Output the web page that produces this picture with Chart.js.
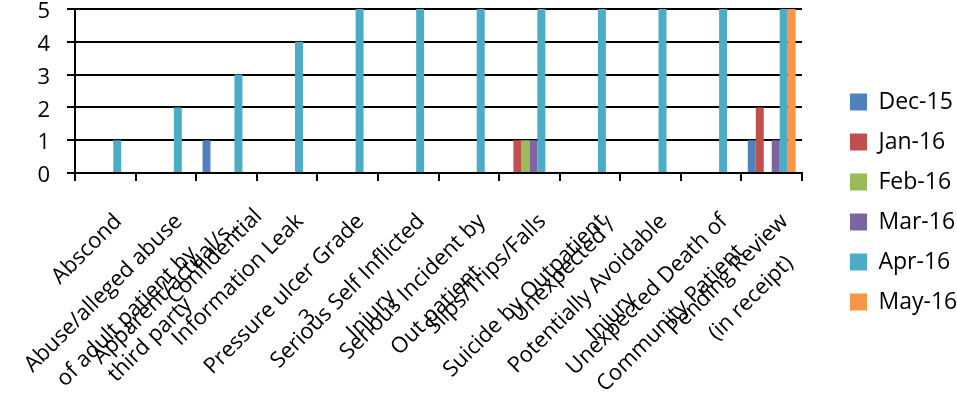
<!DOCTYPE html>
<html>
<head>
<meta charset="utf-8">
<script src="https://cdn.jsdelivr.net/npm/chart.js@4"></script>
<style>
  html, body { margin: 0; padding: 0; background: #fff; }
  #wrap { width: 957px; height: 403px; position: relative; }
</style>
</head>
<body>
<div id="wrap"><canvas id="chart"></canvas></div>
<script>
/* Category labels, one entry per line of the wrapped label */
var categories = [
  ['Abscond'],
  ['Abuse/alleged abuse', 'of adult patient by', 'third party'],
  ['Apparent/actual/s...'],
  ['Confidential', 'Information Leak'],
  ['Pressure ulcer Grade', '3'],
  ['Serious Self Inflicted', 'Injury'],
  ['Serious Incident by', 'Out patient'],
  ['Slips/Trips/Falls'],
  ['Suicide by Outpatient'],
  ['Unexpected /', 'Potentially Avoidable', 'Injury'],
  ['Unexpected Death of', 'Community Patient'],
  ['Pending Review', '(in receipt)']
];

/* Series names and counts per category */
var seriesNames = ['Dec-15', 'Jan-16', 'Feb-16', 'Mar-16', 'Apr-16', 'May-16'];
var dec15 = [0, 0, 1, 0, 0, 0, 0, 0, 0, 0, 0, 1];
var jan16 = [0, 0, 0, 0, 0, 0, 0, 1, 0, 0, 0, 2];
var feb16 = [0, 0, 0, 0, 0, 0, 0, 1, 0, 0, 0, 0];
var mar16 = [0, 0, 0, 0, 0, 0, 0, 1, 0, 0, 0, 1];
var apr16 = [1, 2, 3, 4, 5, 5, 5, 5, 5, 5, 5, 5];
var may16 = [0, 0, 0, 0, 0, 0, 0, 0, 0, 0, 0, 5];

/* Y axis tick values */
var yTicks = [0, 1, 2, 3, 4, 5];

var COLOURS = ['#4F81BD', '#C0504D', '#9BBB59', '#8064A2', '#4BACC6', '#F79646'];
var FONT = "'Open Sans', sans-serif";

/* Wrapped category labels at 45 degrees, Excel style: lines centred on
   each other, the widest line hangs from the tick, others stack around it */
var wrappedLabels = {
  id: 'wrappedLabels',
  afterDraw: function(chart) {
    var scale = chart.scales.x;
    var ctx = chart.ctx;
    var lineH = 33;
    ctx.save();
    ctx.font = '22px ' + FONT;
    ctx.fillStyle = '#000';
    ctx.textAlign = 'center';
    ctx.textBaseline = 'middle';
    chart.data.labels.forEach(function(lines, i) {
      var widths = lines.map(function(l) { return ctx.measureText(l).width; });
      var widest = Math.max.apply(null, widths);
      var k = widths.indexOf(widest);
      ctx.save();
      ctx.translate(scale.getPixelForTick(i) + 13, scale.top + 45);
      ctx.rotate(-Math.PI / 4);
      lines.forEach(function(line, j) {
        ctx.fillText(line, -widest / 2, (j - k) * lineH);
      });
      ctx.restore();
    });
    ctx.restore();
  }
};

/* Nudge the legend away from the plot, as in the original */
var legendNudge = {
  id: 'legendNudge',
  afterLayout: function(chart) {
    chart.legend.left += 31;
    chart.legend.right += 31;
    chart.legend.top -= 4;
    chart.legend.bottom -= 4;
  }
};

var seriesData = [dec15, jan16, feb16, mar16, apr16, may16];
var datasets = seriesNames.map(function(name, i) {
  return {
    label: name,
    data: seriesData[i],
    backgroundColor: COLOURS[i],
    borderWidth: 0,
    categoryPercentage: 0.79,
    barPercentage: 1.0
  };
});

Chart.defaults.font.family = FONT;
Chart.defaults.color = '#000';

new Chart(document.getElementById('chart'), {
  type: 'bar',
  data: {
    labels: categories,
    datasets: datasets
  },
  options: {
    responsive: true,
    maintainAspectRatio: false,
    animation: false,
    layout: { padding: { top: 9, right: 0, bottom: 0, left: 0 } },
    scales: {
      x: {
        grid: {
          drawOnChartArea: false,
          drawTicks: true,
          tickLength: 8,
          color: '#000',
          lineWidth: 2
        },
        border: { color: '#000', width: 2 },
        ticks: { display: false, autoSkip: false },
        afterFit: function(scale) {
          scale.height = 230;
          scale.paddingLeft = 0;
          scale.paddingRight = 155;
        }
      },
      y: {
        min: 0,
        max: 5,
        grid: {
          color: '#000',
          lineWidth: 2,
          tickLength: 8
        },
        border: { color: '#000', width: 2 },
        ticks: {
          padding: 17,
          labelOffset: 3,
          color: '#000',
          font: { family: FONT, size: 22 }
        },
        afterBuildTicks: function(axis) {
          axis.ticks = yTicks.map(function(v) { return { value: v }; });
        },
        afterFit: function(scale) {
          scale.width = 75;
          scale.paddingTop = 0;
          scale.paddingBottom = 0;
        }
      }
    },
    plugins: {
      legend: {
        position: 'right',
        maxWidth: 125,
        labels: {
          boxWidth: 17,
          boxHeight: 17,
          padding: 17,
          color: '#000',
          font: { family: FONT, size: 23 }
        }
      },
      tooltip: { enabled: false }
    }
  },
  plugins: [wrappedLabels, legendNudge]
});
</script>
</body>
</html>
